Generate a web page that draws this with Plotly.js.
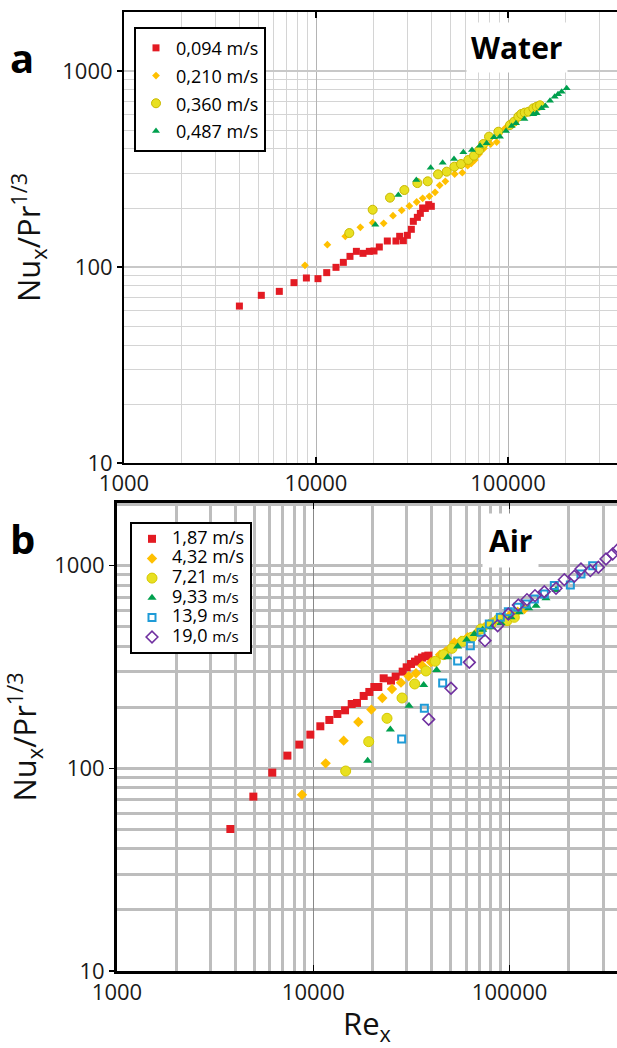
<!DOCTYPE html>
<html><head><meta charset="utf-8">
<script src="https://cdn.plot.ly/plotly-3.0.1.min.js"></script>
<style>html,body{margin:0;padding:0;background:#fff;overflow:hidden}#chart{width:617px;height:1048px}</style>
</head><body><div id="chart"></div>
<script>
// ---------- Panel a: Water ----------
const waterRe094 = [3990, 5190, 6440, 7680, 8910, 10240, 11370, 12710, 13880, 15030, 16230, 17580, 18960, 20050, 21370, 23520, 26100, 27280, 28510, 29910, 31370, 32130, 33720, 34950, 35940, 37100, 38630, 39870];
const waterNu094 = [63.2, 71.7, 75.1, 83.2, 87.9, 87.2, 93.6, 99.6, 105.6, 113.3, 120.2, 117.4, 120.2, 120.7, 126.5, 135.7, 135.7, 143.4, 136.2, 145.1, 155.7, 171.0, 179.2, 187.8, 200, 199, 208, 204];
const waterRe210 = [8760, 11460, 14210, 17020, 19730, 22510, 25180, 27940, 30620, 33450, 35940, 38940, 41690, 44070, 47170, 52760, 57830, 61660, 64420, 67050, 70630, 75000, 81260, 87300, 96470];
const waterNu210 = [102, 130, 143.4, 159.4, 168.4, 167.1, 182.8, 194.6, 204.7, 214.6, 224, 229.4, 240.4, 261, 273.6, 298.2, 302.9, 328.9, 338, 351.5, 377, 403, 424, 434, 510];
const waterRe360 = [14910, 19730, 24290, 28850, 33720, 38170, 43190, 47930, 52550, 56910, 62140, 66530, 70900, 74370, 79620, 89070, 102400, 107500, 113200, 117300, 122200, 128100, 135500, 141100, 146800];
const waterNu360 = [149, 196, 225.8, 247, 268, 273.6, 297, 306.5, 325, 335.4, 351.5, 369.8, 395, 424, 462.4, 490, 530, 551, 584.8, 603.4, 613, 620, 645, 657.6, 668];
const waterRe487 = [20370, 26840, 33310, 39560, 45680, 52340, 58530, 64940, 71480, 77430, 84550, 90850, 97630, 104500, 110100, 121700, 135500, 141100, 149700, 156500, 165500, 175000, 182200, 190300, 202100];
const waterNu487 = [164.4, 233, 277.9, 321, 340.7, 355.6, 384.6, 395, 415.9, 427.5, 458.7, 462.4, 494, 524, 540.8, 569, 601, 608, 645, 663, 705.8, 739.6, 760, 784, 815.6];
const waterNames = ['0,094 m/s', '0,210 m/s', '0,360 m/s', '0,487 m/s'];

// ---------- Panel b: Air ----------
const airRe187 = [3780, 4950, 6180, 7380, 8490, 9660, 10860, 12070, 13260, 14510, 15690, 16700, 18060, 19290, 20460, 21440, 22830, 24880, 26280, 28530, 29900, 31450, 32970, 34280, 35790, 37210, 38550];
const airNu187 = [50.2, 72.5, 95.2, 115.5, 130.9, 146.6, 161.2, 173.2, 185.4, 193.3, 207.7, 210.1, 227.5, 238.1, 251.9, 251.9, 278, 270.8, 283.4, 299.9, 315, 327.2, 336, 343.8, 351.7, 357, 359.7];
const airRe432 = [8760, 11560, 14280, 16960, 19750, 22470, 25170, 27970, 30610, 33360, 35930, 39780, 44200, 47430, 52300, 56550, 61150, 68220, 74330, 81970, 90420, 99700, 109900, 118900];
const airNu432 = [74.1, 105.8, 136.9, 169.2, 194.8, 222.3, 246.3, 264.7, 284.4, 294.3, 321, 333.4, 363.8, 377.8, 418.3, 426.6, 443, 468.8, 496.3, 525.2, 545.6, 566.8, 593, 611];
const airRe721 = [14620, 19150, 23740, 28310, 32840, 37510, 41840, 46150, 50880, 57670, 64090, 71490, 80400, 87960, 97000, 105700];
const airNu721 = [97, 135.4, 176.5, 222.3, 260.7, 302.2, 337.3, 363.8, 390.9, 423.1, 443, 486.9, 515.4, 545.6, 535, 555.9];
const airRe933 = [18920, 24690, 30730, 36500, 42500, 48360, 54370, 60430, 66110, 72900, 81030, 90420, 101600, 112100, 125100, 136300, 153200, 172400];
const airNu933 = [109.1, 155.2, 203.8, 257.8, 305.6, 353, 398.5, 431.3, 460, 483.2, 496.3, 521.3, 555.9, 588.6, 615.8, 634.7, 690, 758.6];
const airRe139 = [28190, 36790, 45610, 54370, 63100, 71490, 78800, 89720, 98520, 109900, 121200, 133700, 150300, 169000, 203900, 231000, 265000];
const airNu139 = [139.5, 197.7, 263.7, 338.5, 402.9, 468.8, 515.4, 555.9, 593, 622.9, 647, 684.6, 724.6, 796.9, 803, 909.7, 1000];
const airRe190 = [38700, 50280, 62340, 74910, 86930, 98520, 110800, 122600, 134700, 150300, 172400, 190000, 213700, 231000, 257800, 283100, 309800, 335000, 355200];
const airNu190 = [174.5, 248.1, 333.4, 426.6, 505.7, 577.5, 639.6, 679.6, 711.2, 744, 773, 853, 886, 963, 945, 981, 1079, 1142, 1199];
const airNums = ['1,87', '4,32', '7,21', '9,33', '13,9', '19,0'];
const airUnitBig = [true, true, false, false, false, false];

// ---------- Ticks / labels ----------
const xTickVals = [1000, 10000, 100000];
const xTickText = ['1000', '10000', '100000'];
const yTickVals = [10, 100, 1000];
const yTickText = ['10', '100', '1000'];
const yTitle = 'Nu<sub>x</sub>/Pr<sup>1/3</sup>';
const xTitle = 'Re<sub>x</sub>';
const panelLabels = ['a', 'b'];
const fluidLabels = ['Water', 'Air'];

// ---------- layout helpers ----------
const W = 617, H = 1048;
const FONT = '"Open Sans", sans-serif';
const fx = p => p / W;
const fy = p => 1 - p / H;
function minorVals(lo, hi) {
  const v = [];
  for (let d = lo; d < hi; d *= 10) for (let k = 2; k <= 9; k++) v.push(k * d);
  return v;
}
const minorX = minorVals(1000, 1e6);
const minorY = minorVals(10, 1e4);

const RED = '#e31b23', ORANGE = '#ffc000', YELLOW = '#e8e021', GREEN = '#00a04e', BLUE = '#1f9bd7', PURPLE = '#7030a0';

function tr(x, y, name, marker, ax, leg) {
  return {
    type: 'scatter', mode: 'markers', x: x, y: y, name: name, marker: marker,
    xaxis: ax[0], yaxis: ax[1], legend: leg, hoverinfo: 'skip', cliponaxis: true
  };
}
const A = ['x', 'y'], B = ['x2', 'y2'];
const s18 = t => '<span style="font-size:18px">' + t + '</span>';
const airName = i => '<span style="font-size:18px">' + airNums[i] + ' ' +
  (airUnitBig[i] ? 'm/s' : '<span style="font-size:15px">m/s</span>') + '</span>';

const data = [
  tr(waterRe094, waterNu094, s18(waterNames[0]), {symbol: 'square', size: 7, color: RED}, A, 'legend'),
  tr(waterRe210, waterNu210, s18(waterNames[1]), {symbol: 'diamond', size: 6, color: ORANGE}, A, 'legend'),
  tr(waterRe360, waterNu360, s18(waterNames[2]), {symbol: 'circle', size: 9, color: YELLOW, line: {color: '#c9b800', width: 1}}, A, 'legend'),
  tr(waterRe487, waterNu487, s18(waterNames[3]), {symbol: 'triangle-up', size: 7, color: GREEN}, A, 'legend'),
  tr(airRe187, airNu187, airName(0), {symbol: 'square', size: 8, color: RED}, B, 'legend2'),
  tr(airRe432, airNu432, airName(1), {symbol: 'diamond', size: 8, color: ORANGE}, B, 'legend2'),
  tr(airRe721, airNu721, airName(2), {symbol: 'circle', size: 10, color: YELLOW, line: {color: '#d6c800', width: 1}}, B, 'legend2'),
  tr(airRe933, airNu933, airName(3), {symbol: 'triangle-up', size: 8, color: GREEN}, B, 'legend2'),
  tr(airRe139, airNu139, airName(4), {symbol: 'square-open', size: 7, color: BLUE, line: {color: BLUE, width: 2}}, B, 'legend2'),
  tr(airRe190, airNu190, airName(5), {symbol: 'diamond-open', size: 9, color: PURPLE, line: {color: PURPLE, width: 1.6}}, B, 'legend2')
];

const tickFont = {family: FONT, size: 22, color: '#1a1a1a'};
function xaxis(dom, range, anchor, lw, grid, minorGrid, title) {
  const ax = {
    type: 'log', domain: dom, range: range, anchor: anchor, automargin: false,
    tickmode: 'array', tickvals: xTickVals, ticktext: xTickText, tickfont: tickFont,
    ticks: 'inside', ticklen: 6, tickwidth: 1.5, tickcolor: '#000',
    showline: true, linecolor: '#000', linewidth: lw, mirror: 'ticks',
    showgrid: true, gridcolor: grid.c, gridwidth: grid.w, zeroline: false,
    minor: {tickmode: 'array', tickvals: minorX, showgrid: true, gridcolor: minorGrid.c, gridwidth: minorGrid.w, ticks: ''}
  };
  if (title) ax.title = {text: title, font: {family: FONT, size: 31, color: '#111'}, standoff: 8};
  return ax;
}
function yaxis(dom, range, anchor, lw, grid, minorGrid) {
  return {
    type: 'log', domain: dom, range: range, anchor: anchor, automargin: false,
    tickmode: 'array', tickvals: yTickVals, ticktext: yTickText, tickfont: tickFont,
    ticks: 'outside', ticklen: 5, tickwidth: 1.5, tickcolor: '#000',
    showline: true, linecolor: '#000', linewidth: lw, mirror: false,
    showgrid: true, gridcolor: grid.c, gridwidth: grid.w, zeroline: false,
    minor: {tickmode: 'array', tickvals: minorY, showgrid: true, gridcolor: minorGrid.c, gridwidth: minorGrid.w, ticks: ''},
    title: {text: yTitle, font: {family: FONT, size: 31, color: '#111'}, standoff: 12}
  };
}

const layout = {
  width: W, height: H, margin: {l: 0, r: 0, t: 0, b: 0},
  paper_bgcolor: '#fff', plot_bgcolor: '#fff',
  font: {family: FONT, color: '#000'},
  xaxis: xaxis([fx(124), 1], [3, 3 + (617 - 124) / 192], 'y', 2, {c: '#b4b4b4', w: 1}, {c: '#d4d4d4', w: 1}, null),
  yaxis: yaxis([fy(463), fy(12)], [1, 3.301], 'x', 2, {c: '#c8c8c8', w: 1.5}, {c: '#d4d4d4', w: 1}),
  xaxis2: xaxis([fx(117), 1], [3, 3 + (617 - 117) / 196.3], 'y2', 3, {c: '#888888', w: 1}, {c: '#bdbdbd', w: 3}, xTitle),
  yaxis2: yaxis([fy(971), fy(503)], [1, 3.309], 'x2', 3, {c: '#bdbdbd', w: 3}, {c: '#bdbdbd', w: 3}),
  showlegend: true,
  legend: {x: fx(134), y: fy(27), xanchor: 'left', yanchor: 'top', bgcolor: '#fff', bordercolor: '#000', borderwidth: 2,
    font: {family: FONT, size: 19, color: '#000'}, itemclick: false, itemdoubleclick: false},
  legend2: {x: fx(130), y: fy(522), xanchor: 'left', yanchor: 'top', bgcolor: '#fff', bordercolor: '#000', borderwidth: 2,
    font: {family: FONT, size: 12.8, color: '#000'}, itemclick: false, itemdoubleclick: false},
  annotations: [
    {text: '<b>' + panelLabels[0] + '</b>', xref: 'paper', yref: 'paper', x: fx(22), y: fy(58), xanchor: 'center', yanchor: 'middle', showarrow: false, font: {family: FONT, size: 40, color: '#000'}},
    {text: '<b>' + panelLabels[1] + '</b>', xref: 'paper', yref: 'paper', x: fx(22), y: fy(538), xanchor: 'center', yanchor: 'middle', showarrow: false, font: {family: FONT, size: 40, color: '#000'}},
    {text: '<b>' + fluidLabels[0] + '</b>', xref: 'paper', yref: 'paper', x: fx(517), y: fy(47), xanchor: 'center', yanchor: 'middle', showarrow: false, bgcolor: '#fff', borderpad: 4, font: {family: FONT, size: 30, color: '#000'}},
    {text: '<b>' + fluidLabels[1] + '</b>', xref: 'paper', yref: 'paper', x: fx(510), y: fy(540), xanchor: 'center', yanchor: 'middle', showarrow: false, bgcolor: '#fff', borderpad: 6, font: {family: FONT, size: 30, color: '#000'}}
  ]
};

Plotly.newPlot('chart', data, layout, {displayModeBar: false, staticPlot: true});
</script>
</body></html>
